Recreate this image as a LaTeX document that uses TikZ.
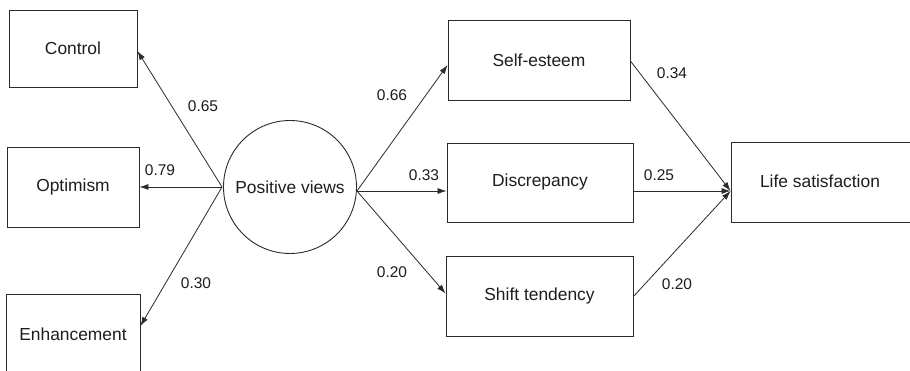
\documentclass[tikz,border=0pt]{standalone}
\usepackage{fontspec}
\setmainfont{Liberation Sans}
\usetikzlibrary{arrows.meta,calc}
\definecolor{ln}{HTML}{2A2A2A}
\definecolor{tx}{HTML}{1E1E1E}
\tikzset{
  vbox/.style={draw=ln, line width=0.9pt, rectangle, inner sep=0pt, text=tx, font=\fontsize{17.4}{19}\selectfont},
  lat/.style={draw=ln, line width=0.9pt, circle, inner sep=0pt, minimum size=133pt, text=tx, font=\fontsize{17.4}{19}\selectfont},
  coef/.style={text=tx, font=\fontsize{15.5}{17}\selectfont, inner sep=0pt},
  path/.style={draw=ln, line width=0.8pt, -{Latex[length=9pt,width=6pt]}}
}
\begin{document}
\begin{tikzpicture}[x=1pt,y=-1pt]
\useasboundingbox (0,0) rectangle (910,371);
\clip (0,0) rectangle (910,371);
\fill[white] (0,0) rectangle (910,371);
% observed indicators
\node[vbox, minimum width=128pt, minimum height=77pt] (control) at (73,48.5) {Control};
\node[vbox, minimum width=132pt, minimum height=80pt] (optim) at (73,187) {Optimism};
\node[vbox, minimum width=134pt, minimum height=80pt] (enh) at (73,334) {Enhancement};
% latent
\node[lat] (pv) at (290,187) {Positive views};
% mediators
\node[vbox, minimum width=182pt, minimum height=80pt] (self) at (539,60) {Self-esteem};
\node[vbox, minimum width=186pt, minimum height=79pt] (disc) at (540,182.5) {Discrepancy};
\node[vbox, minimum width=187pt, minimum height=80pt] (shift) at (539.5,296.5) {Shift tendency};
% outcome
\node[vbox, minimum width=182pt, minimum height=80pt] (life) at (822,182) {};
\node[text=tx, font=\fontsize{17.4}{19}\selectfont, inner sep=0pt] (lifet) at (820,181) {Life satisfaction};
% anchor points
\coordinate (pvL) at ([xshift=-1pt]pv.west);
\coordinate (pvR) at ([yshift=-4pt]pv.east);
\coordinate (lsin) at ([yshift=-9pt]life.west);
% left paths
\draw[path] (pvL) -- ([yshift=-2.5pt]control.east);
\draw[path] (pvL) -- (optim.east);
\draw[path] (pvL) -- ([yshift=8pt]enh.east);
% right paths
\draw[path] (pvR) -- ([yshift=-5pt]self.west);
\draw[path] (pvR) -- ([yshift=-8.5pt]disc.west);
\draw[path] (pvR) -- ([yshift=3pt]shift.west);
\draw[path] ([yshift=-1pt]self.east) -- (lsin);
\draw[path] ([yshift=-8.5pt]disc.east) -- (lsin);
\draw[path] (shift.east) -- (lsin);
% coefficients
\node[coef] (c1) at (203,106) {0.65};
\node[coef] (c2) at (160,170.5) {0.79};
\node[coef] (c3) at (196,283.5) {0.30};
\node[coef] (c4) at (392,95) {0.66};
\node[coef] (c5) at (424,175) {0.33};
\node[coef] (c6) at (392,272) {0.20};
\node[coef] (c7) at (672,73) {0.34};
\node[coef] (c8) at (659,175) {0.25};
\node[coef] (c9) at (677,284.5) {0.20};
\end{tikzpicture}
\end{document}
